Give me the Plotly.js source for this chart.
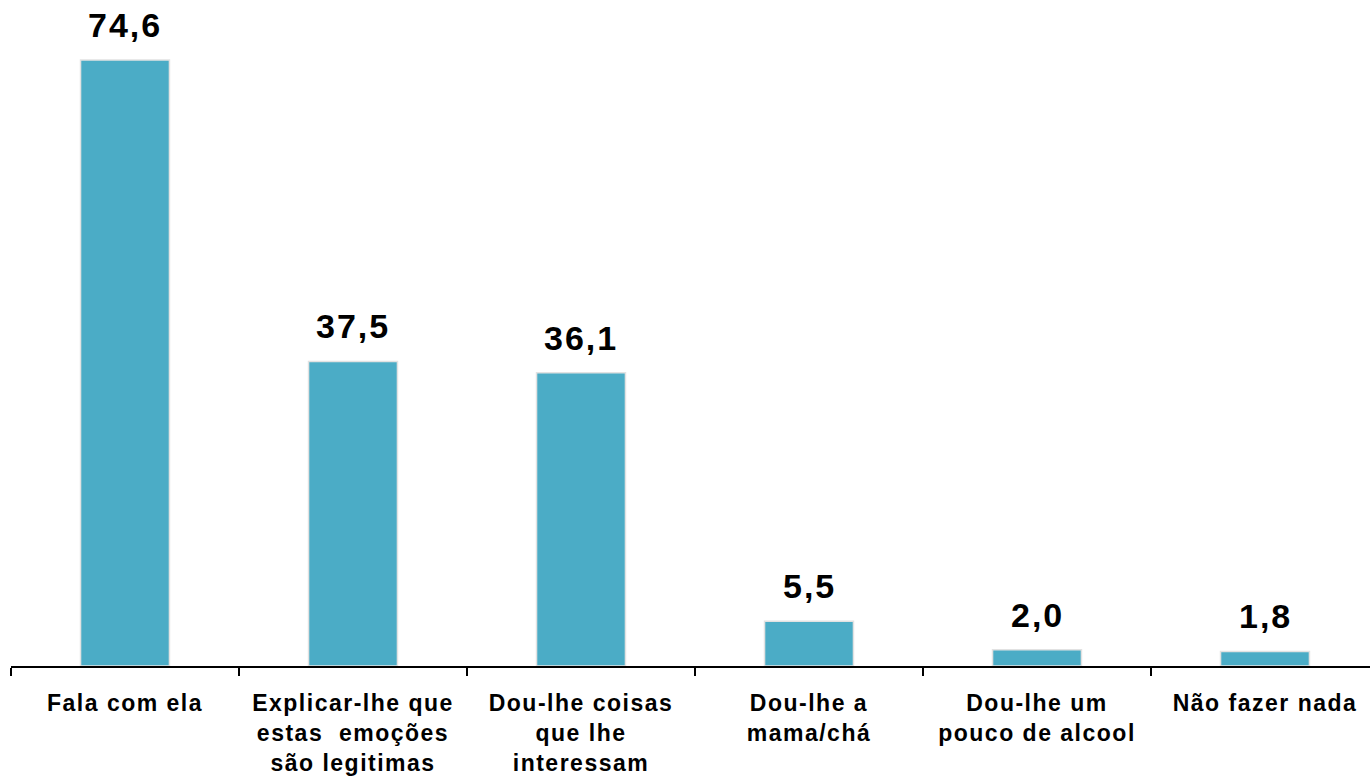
<!DOCTYPE html>
<html>
<head>
<meta charset="utf-8">
<script src="https://cdn.plot.ly/plotly-3.0.1.min.js"></script>
<style>
html,body{margin:0;padding:0;overflow:hidden;background:#fff;}
#chart{width:1380px;height:777px;}
.xtick text{letter-spacing:1.5px;}
.annotation-text{letter-spacing:2px;}
</style>
</head>
<body>
<div id="chart"></div>
<script>
const categories = [
  "Fala com ela",
  "Explicar-lhe que<br>estas\u00a0 emoções<br>são legitimas",
  "Dou-lhe coisas<br>que lhe<br>interessam",
  "Dou-lhe a<br>mama/chá",
  "Dou-lhe um<br>pouco de alcool",
  "Não fazer nada"
];
const values = [74.6, 37.5, 36.1, 5.5, 2.0, 1.8];

const trace = {
  type: 'bar',
  x: categories,
  y: values,
  width: 0.39,
  marker: {color: '#4BACC6', line: {color: '#e2e2e2', width: 1.5}},
  hoverinfo: 'none'
};

const annotations = categories.map((c, i) => ({
  x: c, y: values[i], xref: 'x', yref: 'y',
  text: '<b>' + values[i].toFixed(1).replace('.', ',') + '</b>',
  showarrow: false, yanchor: 'bottom', yshift: 14,
  font: {family: 'Liberation Sans, Arial, sans-serif', size: 34, color: '#000'}
}));

const layout = {
  width: 1380, height: 777,
  margin: {l: 11, r: 1, t: 0, b: 111},
  paper_bgcolor: '#fff', plot_bgcolor: '#fff',
  showlegend: false,
  xaxis: {
    type: 'category',
    showline: true, linecolor: '#000', linewidth: 1.5,
    ticks: 'outside', tickson: 'boundaries', ticklen: 8, tickcolor: '#000', tickwidth: 1.5,
    ticklabelstandoff: 16,
    tickfont: {family: 'Liberation Sans, Arial, sans-serif', size: 23, color: '#000', weight: 'bold'},
    showgrid: false, zeroline: false, fixedrange: true
  },
  yaxis: {
    range: [0, 82], visible: false, showgrid: false, zeroline: false, fixedrange: true
  },
  annotations: annotations
};

Plotly.newPlot('chart', [trace], layout, {displayModeBar: false, staticPlot: true});
</script>
</body>
</html>
